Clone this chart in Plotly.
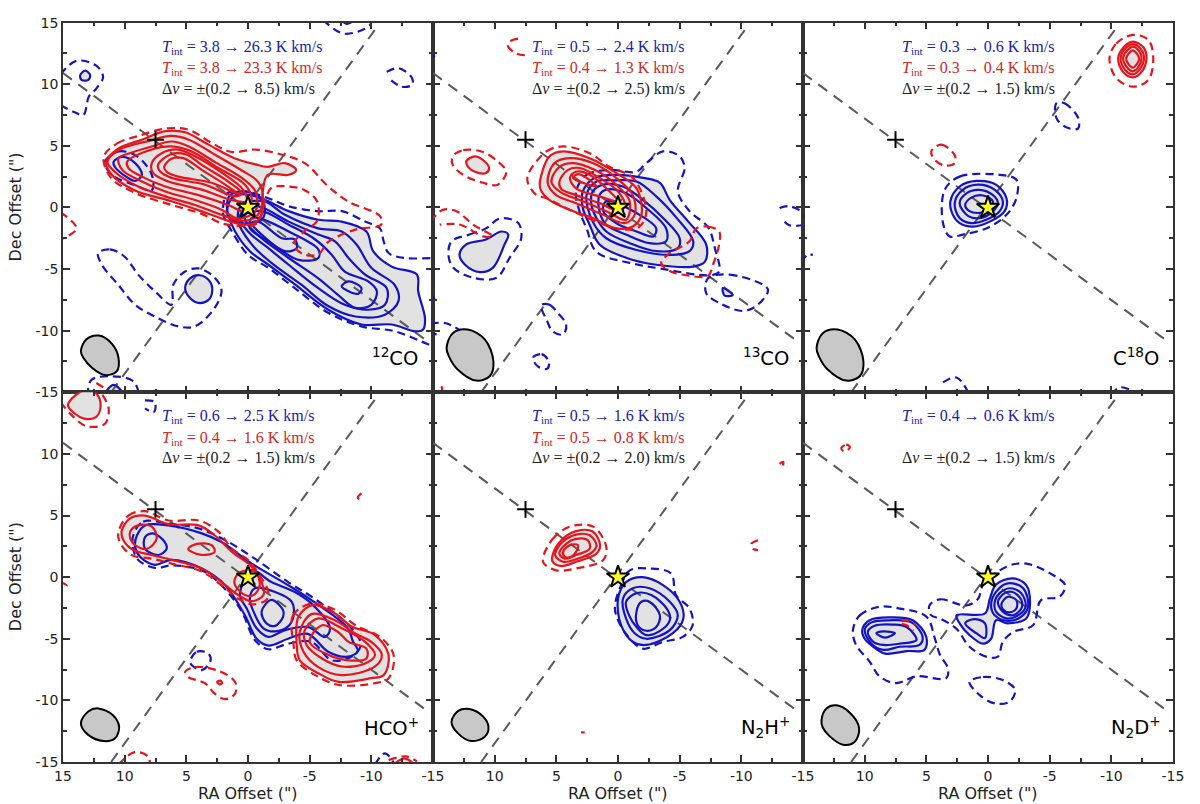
import plotly.graph_objects as go

# ---------- shared marks ----------
major_axis_x = [15, -14.6]
major_axis_y = [10.9, -10.9]
minor_axis_x = [11.1, -10.5]
minor_axis_y = [-15, 14.7]
plus_x = [7.5]
plus_y = [5.5]
star_x = [0]
star_y = [0]
tick_values = [15, 10, 5, 0, -5, -10, -15]
tick_labels = ["15", "10", "5", "0", "-5", "-10", "-15"]

# ---------- 12CO ----------
co12_beam = [(13.55,-11.65),(13.1,-10.7),(12.1,-10.4),(11.05,-11.05),(10.5,-12.2),(10.65,-13.3),(11.6,-13.6),(12.65,-13.0),(13.35,-12.2)]
co12_red_dash = [
 [(11.7,4.1),(10.6,5.2),(8.9,5.8),(6.7,6.4),(4.8,6.3),(2.9,5.2),(1.3,4.5),(-0.6,4.7),(-2.7,4.3),(-4.6,3.6),(-6.4,1.8),(-8.1,0.5),(-10.7,-0.7),(-10.8,-1.4),(-8.7,-1.8),(-6.5,-2.8),(-5.7,-3.8),(-4.5,-3.8),(-3.7,-3.0),(-4.6,-1.9),(-5.6,-1.1),(-5.6,0.5),(-4.6,1.4),(-3.3,1.7),(-1.9,1.6),(-1.5,0.9),(-0.7,-1.3),(0.5,-1.5),(2.1,-1.3),(3.8,-0.5),(6.2,0.2),(9.2,1.2),(11.1,2.4)],
]
co12_red_arc = [
 [(15.2,-0.4),(13.9,-1.7),(15.2,-2.6)],
 [(12.3,-14.25),(11.3,-14.9),(11,-15.2)],
]
co12_red_solid = [
 [(11.5,3.7),(10.5,4.8),(8.6,5.5),(6.7,6.2),(5.1,6.1),(3.2,5.1),(1.1,4.0),(-0.6,3.5),(-1.6,3.3),(-3,3.6),(-3.9,3.05),(-3.3,2.65),(-1.6,2.65),(-1.2,1.3),(-1.1,-0.6),(-0.3,-1.35),(1.05,-1.25),(2.7,-0.7),(3.8,-0.3),(6.2,0.5),(9.2,1.4),(11.05,2.65)],
 [(11.4,3.7),(10.4,4.7),(8.0,5.4),(6.2,5.8),(4.8,5.5),(2.7,4.3),(0.5,3.0),(-0.8,2.1),(-1.2,1.0),(-0.8,-0.6),(0.5,-1.1),(2.1,-0.6),(4.3,0.2),(6.7,0.9),(9.2,1.85),(10.8,2.9)],
 [(10.5,4.0),(9.6,4.4),(7.8,4.95),(6.2,5.35),(4.8,4.95),(2.7,3.7),(0.5,2.4),(-0.6,1.3),(-0.6,-0.3),(0.8,-0.9),(2.1,-0.2),(4.3,0.6),(6.7,1.3),(8.9,2.25),(10.2,3.05)],
 [(9.8,3.7),(7.8,4.7),(6.2,4.95),(4.6,4.55),(2.4,3.2),(0.25,1.85),(-0.3,0.75),(0.25,-0.3),(1.6,0.2),(4.0,1.0),(6.7,1.7),(8.6,2.5),(9.7,3.2)],
 [(7.8,3.6),(7.0,4.4),(5.65,4.7),(4.3,4.15),(2.1,2.8),(0.4,1.45),(0.1,0.5),(1.3,0.6),(3.75,1.45),(6.45,2.1),(7.7,2.8)],
 [(7.3,3.45),(6.3,4.3),(5,4.3),(3.75,3.45),(1.6,2.1),(0.5,1.15),(1.05,0.9),(3.5,1.85),(6.2,2.4),(7.1,2.9)],
 [(6.8,3.3),(6.2,3.95),(5.25,4.0),(3.75,3.05),(1.85,1.85),(0.65,1.0),(2.95,2.0),(5.65,2.5),(6.6,2.9)],
]
co12_blue_dash = [
 [(2,0.2),(1.7,1.15),(0.25,1.3),(-1.65,0.75),(-3.3,0.1),(-5.7,-0.3),(-7.6,-0.3),(-9.5,-1.15),(-10.7,-1.7),(-11,-2.75),(-11.4,-3.7),(-12.7,-4.1),(-15,-4.1),(-15.4,-4.1),(-15.4,-11.4),(-14.6,-11.1),(-11.9,-10.05),(-9.2,-9.65),(-6.5,-8.55),(-3.8,-6.55),(-1.65,-4.9),(0,-3.85),(1.3,-1.95),(2,-0.6)],
 [(11.6,3.7),(10.5,4.55),(9.0,4.15),(7.8,2.65),(7.8,1.4),(9.15,1.8),(11.05,2.65)],
 [(12.15,-3.7),(11.2,-3.4),(10,-4),(8.9,-5.45),(7.55,-6.8),(6.2,-7.9),(6.05,-6.25),(5.1,-5.2),(4.0,-4.95),(2.8,-5.6),(2.15,-6.7),(2.7,-8.15),(4.3,-9.65),(5.65,-9.65),(7.55,-8.85),(9.15,-7.9),(10.5,-6.3),(11.85,-4.65)],
]
co12_blue_arc = [
 [(15.2,10.8),(13.9,11.9),(12.3,11.5),(11.75,10.6),(12.3,9.65),(12.9,9),(13.35,7.5),(14,7.7),(15.2,8.3)],
 [(-11.25,11.0),(-12.2,11.3),(-13.3,10.5),(-13.3,9.95),(-12.45,9.8),(-11.4,10.5)],
 [(-6.1,15.2),(-7.8,14.1),(-9.9,14.8),(-10,15.5)],
 [(13,-15.3),(12.7,-14),(11.1,-13.7),(9.3,-14.1),(8.8,-15.3)],
]
co12_blue_solid = [
 [(1.7,0.35),(1.45,1.0),(0.25,1.3),(-1.65,0.5),(-3.3,-0.3),(-5.7,-1.0),(-7.6,-1.15),(-9.6,-1.95),(-10.15,-3.55),(-11.65,-4.8),(-13.7,-5.45),(-13.8,-6.8),(-14.35,-9),(-14.2,-9.9),(-13.55,-10.05),(-11.65,-9.5),(-9.2,-9.5),(-6.5,-8.3),(-3.8,-6.25),(-1.65,-4.65),(-0.15,-3.55),(1.05,-1.95),(1.6,-0.6)],
 [(-1.3,0.5),(-3,-0.6),(-5.7,-1.7),(-7.6,-1.95),(-8.8,-3.0),(-10,-4.9),(-11.9,-6.3),(-12.2,-7.6),(-11.1,-8.7),(-8.7,-8.85),(-6.5,-8.0),(-4.3,-6.25),(-1.9,-4.5),(-0.3,-3.0),(0.8,-1.1),(0.5,0.2)],
 [(-1.25,-0.05),(-3.3,-1.15),(-5.7,-2.2),(-7.05,-2.75),(-8.15,-4.1),(-9.5,-5.45),(-11.25,-6.55),(-11.1,-7.9),(-9.75,-8.3),(-7.85,-7.9),(-5.7,-6.55),(-3.3,-4.65),(-1.65,-3.3),(0,-1.95),(0.65,-0.85),(0,0.2)],
 [(-1.1,-0.3),(-3.3,-1.4),(-5.45,-2.6),(-6.8,-3.85),(-7.85,-5.2),(-9.75,-6),(-10.45,-6.8),(-10.0,-7.9),(-8.7,-8.15),(-7.3,-7.1),(-5.7,-5.75),(-3.3,-4.1),(-1.1,-2.5),(0.1,-1.27),(0.25,-0.6)],
 [(-7.6,-6.4),(-8.15,-6),(-9.2,-6.55),(-8.95,-7.0),(-8.15,-6.8)],
 [(-0.85,-0.85),(-3.3,-1.95),(-5.7,-3.4),(-5.7,-4.1),(-4.1,-4.25),(-1.65,-2.75),(-0.15,-1.67),(-0.3,-0.85)],
 [(-0.85,-1.15),(-2.75,-2.5),(-3.8,-2.6),(-3.95,-3.3),(-3,-3.55),(-1.1,-2.2),(-0.3,-1.27)],
 [(1.6,0.2),(1.2,0.9),(0.1,1.05),(-1.2,0.5),(-1.2,-0.9),(0.4,-1.3),(1.3,-1.0),(1.7,-0.5)],
 [(10.9,3.7),(10.2,4.1),(9.15,3.6),(8.6,2.65),(9.15,2.15),(10.1,2.65),(10.8,3.3)],
 [(13.6,10.75),(13.2,11.1),(12.8,10.75),(12.95,10.35),(13.5,10.35)],
 [(5.1,-6.55),(4.7,-5.75),(3.9,-5.5),(3.1,-6),(2.9,-6.8),(3.2,-7.5),(4.0,-7.75),(4.7,-7.35)],
 [(11.6,-15.2),(10.9,-14.4),(10.1,-15.2)],
 [(-7.6,15.2),(-8.0,14.9),(-8.6,15.2)],
]

# ---------- 13CO ----------
co13_beam = [(13.9,-11.4),(13.4,-10.2),(12.2,-9.9),(10.8,-10.7),(10.1,-12.5),(10.4,-13.7),(11.5,-14.05),(13,-13.15),(13.7,-12.1)]
co13_red_dash = [
 [(13.4,4.15),(12.55,4.65),(10.95,4.5),(9.6,3.6),(9.05,2.9),(9.75,1.85),(10.95,2),(12.55,2.65),(13.4,3.45)],
 [(7.3,2.65),(5.8,4.55),(4.45,4.95),(2.3,4.4),(0.7,3.3),(-1.2,2.4),(-2.3,-0.3),(-1.75,-1.55),(-0.4,-1.8),(1.75,-1.15),(3.9,-0.2),(5.8,0.75),(6.6,1),(7.3,1.97)],
 [(-6.35,-1.7),(-7.3,-1.55),(-8.2,-1.95),(-8.2,-3),(-7.7,-4.65),(-7.3,-5.55),(-5.55,-5.5),(-4.2,-5.15),(-3.5,-4.5),(-4.2,-3.7),(-5.8,-2.75)],
]
co13_red_arc = [
 [(8.1,13.7),(8.8,13.45),(8.9,13.05),(8.25,12.5),(7.55,12.35)],
 [(15.2,-1.1),(14.2,-0.2),(13.1,-0.3),(11.75,-1.4),(10.15,-2.35),(10.95,-2.35),(12.8,-1.4),(14.45,-1.4)],
 [(14.3,-14.5),(14.2,-15.2)],
]
co13_red_solid = [
 [(12.3,3.75),(11.6,4.15),(10.95,3.85),(10.45,3.2),(10.7,2.8),(11.6,2.9),(12.15,3.3)],
 [(6.35,1.85),(5.55,4.15),(4.45,4.55),(2.3,4),(0.15,2.8),(-1.5,1.55),(-1.9,-0.6),(-1.2,-1.55),(0.15,-1.7),(2.05,-0.85),(3.9,-0.2),(5.55,0.6),(6.2,1.3)],
 [(5.7,2),(5.15,3.6),(3.9,4),(2.05,3.6),(0.15,2.4),(-1.2,1.0),(-1.35,-0.6),(-0.55,-1.27),(1.2,-0.6),(3.4,0.35),(5,1.0)],
 [(5.4,2.1),(4.75,3.3),(3.65,3.6),(1.9,3.05),(0.15,1.85),(-0.95,0.5),(-0.65,-1),(0.95,-0.3),(2.85,0.5),(4.75,1.3)],
 [(4.75,2.1),(4.05,3.05),(3.1,3.2),(1.5,2.4),(0,1.3),(-0.55,0.2),(-0.15,-0.3),(1.5,0.35),(3.4,1),(4.6,1.5)],
 [(3.9,2.4),(3.4,2.9),(2.3,2.65),(0.95,1.55),(0,0.5),(1.5,0.9),(3.4,1.55)],
 [(3.65,2.4),(3.25,2.7),(2.55,2.4),(1.75,1.7),(2.85,2)],
]
co13_blue_dash = [
 [(13.5,-2.75),(12.05,-2.2),(10.7,-1.7),(9.6,-0.9),(8.1,-1.25),(7.85,-2.5),(8.8,-4.1),(9.85,-5.7),(11.75,-5.7),(13.35,-4.9),(13.75,-3.85)],
 [(3.4,1.3),(2.55,2.65),(0.7,3.05),(-1.5,2.9),(-2.3,3.6),(-3.65,4.55),(-5,4.15),(-5.4,3.2),(-4.85,1.3),(-5.8,-0.3),(-7.3,-1.6),(-7.85,-3.3),(-8.2,-5.2),(-7.5,-5.5),(-3.4,-4.95),(-0.95,-4.5),(1.75,-3.6),(2.55,-1.7),(3.2,-0.05)],
 [(-7.3,-5.75),(-9.05,-5.45),(-12.15,-6.65),(-11.2,-8),(-10.15,-8.4),(-8.5,-7.9),(-7.15,-6.95)],
 [(6.2,-7.9),(5.55,-7.9),(4.9,-8.55),(4.2,-9.5),(4.45,-10.3),(5.3,-10.05),(5.8,-9.1),(6.2,-8.2)],
 [(6.9,-12.2),(6.2,-11.9),(5.6,-12.5),(5.75,-13.1),(6.5,-12.9)],
]
co13_blue_arc = [
 [(-13.1,-0.05),(-13.9,0.1),(-15.2,-0.6),(-15.2,-1.27),(-13.9,-1.45),(-13.25,-0.85)],
 [(15.2,-9.4),(13.95,-9.4),(12.9,-9.9)],
 [(15.2,-10.2),(14.7,-10.3)],
 [(15.2,12.6),(14.9,12.3),(15.2,11.9)],
 [(15.2,-7),(14.9,-7.4),(15.2,-7.8)],
]
co13_blue_solid = [
 [(12.85,-3.85),(12.3,-3.0),(10.7,-2.6),(9.45,-1.95),(8.9,-2.2),(9.2,-3.0),(10.15,-4.9),(11.2,-5.25),(12.4,-4.65)],
 [(2.85,1.3),(1.9,2.4),(0.15,2.65),(-2.05,2.4),(-3.4,2),(-4.2,0.6),(-5.7,-1.15),(-7.15,-3),(-7.05,-4.4),(-6.1,-4.8),(-3.1,-4.65),(-0.7,-4.1),(1.5,-3),(2.3,-1.4),(2.85,-0.05)],
 [(2.55,1),(1.75,2.1),(0.15,2.2),(-1.5,2.1),(-3.1,0.9),(-4.75,-0.85),(-6.1,-2.75),(-5.8,-3.55),(-4.45,-3.85),(-1.5,-3.45),(0.95,-2.5),(2.05,-1.15)],
 [(2.05,1.3),(1.2,1.85),(-0.4,1.7),(-2.05,0.6),(-3.65,-0.85),(-5,-2.5),(-4.85,-3.3),(-3.1,-3.55),(-0.95,-2.9),(0.95,-1.95),(1.75,-0.85),(2.15,0.2)],
 [(1.5,1),(0.95,1.45),(-0.65,1.15),(-2.3,-0.05),(-3.9,-1.7),(-3.9,-2.75),(-2.55,-2.9),(-0.65,-2.2),(0.95,-1.4),(1.5,-0.3)],
 [(-1.75,-0.6),(-3.1,-1.7),(-2.85,-2.35),(-1.5,-1.95),(0.15,-1.27),(1.2,-0.3),(0.95,0.5)],
 [(-8.5,-6.55),(-9.3,-7.1),(-8.65,-7.15)],
]

# ---------- C18O ----------
c18o_beam = [(13.9,-11.4),(13.4,-10.2),(12.2,-9.9),(10.8,-10.7),(10.1,-12.5),(10.4,-13.7),(11.5,-14.05),(13,-13.15),(13.7,-12.1)]
c18o_red_dash = [
 [(-9.85,12.1),(-10.4,13.3),(-11.75,14),(-13,13.6),(-13.4,12.1),(-13,10.35),(-11.75,9.8),(-10.4,10.5)],
 [(4.6,4.55),(3.8,5.1),(2.7,4.25),(2.7,3.6),(3.5,3.4),(4.3,3.85)],
]
c18o_red_arc = []
c18o_red_solid = [
 [(-10.55,12.1),(-11,13),(-11.75,13.45),(-12.6,13),(-12.85,12.1),(-12.45,11),(-11.75,10.55),(-10.95,11)],
 [(-10.75,12.1),(-11.1,12.85),(-11.75,13.25),(-12.4,12.85),(-12.65,12.1),(-12.3,11.2),(-11.75,10.8),(-11.1,11.2)],
 [(-10.95,12.1),(-11.25,12.7),(-11.75,13.05),(-12.25,12.7),(-12.45,12.1),(-12.2,11.4),(-11.75,11.05),(-11.25,11.4)],
 [(-11.2,12.1),(-11.75,12.75),(-12.25,12.1),(-12.0,11.55),(-11.75,11.35),(-11.35,11.7)],
]
c18o_blue_dash = [
 [(-5.55,8.45),(-6.2,8.45),(-7.3,7.3),(-7.3,6.4),(-6.35,6.5),(-5.55,7.25)],
 [(3.5,1.45),(2.3,2.5),(-0.95,2.65),(-2.3,2.25),(-2.3,0.75),(-1.5,-0.6),(0.15,-1.7),(2.05,-2.2),(3.1,-2.35),(3.65,-1.27)],
]
c18o_blue_arc = [
 [(3.65,-14.2),(2.55,-13.8),(1.5,-15.2)],
 [(3.4,-14.9),(2.5,-15.2)],
 [(-10,-15.2),(-10.7,-14.6),(-12.4,-15.2)],
 [(15.2,-0.2),(14.85,-1.1)],
 [(15.2,-4.4),(14.6,-3.85),(14.2,-3.85)],
]
c18o_blue_solid = [
 [(3.05,0.5),(2.3,1.7),(0.95,2.15),(-0.65,1.85),(-1.5,0.75),(-1.35,-0.3),(-0.15,-1.15),(1.2,-1.55),(2.3,-1.27),(2.85,-0.6)],
 [(2.7,0.35),(2.05,1.43),(0.8,1.85),(-0.55,1.43),(-1.2,0.5),(-0.95,-0.3),(0.15,-1),(1.35,-1.27),(2.3,-0.85)],
 [(2.3,0.35),(1.75,1.15),(0.7,1.43),(-0.4,1),(-0.8,0.35),(-0.4,-0.3),(0.55,-0.85),(1.6,-0.7)],
 [(1.85,0.2),(1.35,0.8),(0.4,0.97),(-0.4,0.5),(-0.15,-0.2),(0.8,-0.45),(1.5,-0.3)],
]

# ---------- HCO+ ----------
hco_beam = [(13.55,-11.85),(12.95,-10.9),(12.15,-10.65),(10.95,-11.2),(10.45,-12.15),(10.8,-13.1),(11.7,-13.3),(12.95,-12.8)]
hco_red_dash = [
 [(10.5,3.7),(9.7,5.0),(8.35,5.35),(6.45,4.6),(4.0,4.6),(2.4,3.7),(1.3,2.3),(0,1.4),(-0.85,0.3),(-1.65,-1.2),(-1.5,-1.85),(-0.3,-2.2),(0.8,-1.75),(1.85,-0.9),(3.75,0.45),(6.2,1.1),(7.8,1.5),(9.45,1.8),(10.4,2.85)],
 [(-3.7,-5.5),(-3.65,-3.1),(-5.15,-2.15),(-7.05,-2.65),(-8.7,-3.9),(-10.7,-4.85),(-11.8,-6.3),(-11.4,-8.2),(-10.3,-8.6),(-7.35,-8.75),(-5.45,-7.95),(-3.95,-6.75)],
 [(5.1,-7.7),(4.3,-7.3),(2.4,-7.6),(1.05,-8.5),(1.05,-9.45),(1.85,-9.9),(2.7,-9.45),(3.5,-8.6),(4.85,-8.1)],
]
hco_red_arc = [
 [(15.2,14.2),(14.4,13.25),(13.1,12.25),(11.6,12.45),(11.3,13.7),(11.85,14.9),(12,15.2)],
 [(15.2,-0.4),(14.7,-0.7),(15.2,-1)],
 [(-9.2,6.8),(-8.9,6.45),(-9.35,6.1)],
 [(10.5,-15.2),(9.2,-14.2),(8.1,-14.55),(7.95,-15.2)],
 [(-11.4,-14.85),(-12.8,-14.55),(-13.7,-14.95)],
]
hco_red_solid = [
 [(14.6,13.95),(14.0,14.75),(13.1,15.2),(12.3,14.9),(11.95,13.95),(12.3,13),(13.2,12.85),(14.2,13.4)],
 [(10.25,3.7),(9.6,4.75),(8.35,5.0),(6.45,4.3),(4.0,4.2),(2.7,3.4),(1.3,2.05),(-0.3,0.85),(-1.1,-0.4),(-1.25,-1.45),(-0.3,-1.95),(0.8,-1.45),(2.15,-0.4),(3.75,0.7),(6.2,1.4),(7.8,1.8),(9.3,2.2),(10.1,3.0)],
 [(9.55,3.7),(8.9,4.2),(7.8,4.1),(7.4,3.15),(8.2,2.3),(9.15,2.6),(9.55,3.15)],
 [(4.85,2.3),(4.15,2.7),(2.95,2.6),(2.7,2.05),(3.75,1.8),(4.55,2.05)],
 [(1.05,-0.1),(0.5,0.45),(-0.55,0.45),(-0.95,-0.65),(-0.45,-1.45),(0.25,-1.45),(1.05,-0.65)],
 [(-3.95,-5.5),(-4.1,-3.2),(-5.3,-2.25),(-7.05,-2.95),(-8.4,-4.0),(-10.3,-4.7),(-11.4,-6.3),(-11,-7.95),(-10,-8.2),(-7.35,-8.5),(-5.7,-7.8),(-4.2,-6.75)],
 [(-4.2,-4.45),(-5.15,-3),(-7.05,-3.5),(-8.65,-4.55),(-10,-5.25),(-10.85,-6.3),(-10.3,-7.25),(-7.6,-7.95),(-5.7,-7.3),(-4.5,-6.05)],
 [(-4.6,-4.3),(-5.7,-3.35),(-7.6,-4.15),(-9.5,-5.25),(-10.3,-6.3),(-9.5,-7),(-7.6,-7.25),(-6,-6.6),(-4.75,-5.5)],
 [(-5,-5.25),(-6,-3.9),(-7.3,-4.45),(-8.15,-5.25),(-9.6,-5.8),(-9.6,-6.6),(-8.15,-6.75),(-6.5,-6.3)],
 [(2.5,-8.5),(2.25,-8.4),(2.1,-8.6),(2.3,-8.7)],
 [(-11.9,-15.2),(-12.7,-14.7),(-13.4,-15.2)],
]
hco_blue_dash = [
 [(9.3,3.4),(8.5,4.5),(6.45,4.35),(4,3.95),(1.85,3),(-0.55,1.5),(-3.25,-0.4),(-5.4,-1.75),(-8.4,-4.15),(-9.15,-5.5),(-8.4,-6.45),(-6.8,-6.75),(-5.15,-5.25),(-3.25,-5.4),(-1.65,-5.85),(-0.55,-5.1),(0.5,-2.8),(2.15,-0.65),(3.75,0.55),(6.2,0.95),(7.55,0.75),(8.9,1.4),(9.3,2.3)],
 [(4.7,-6.85),(4.15,-6.05),(3.2,-6.2),(3.05,-6.85),(3.75,-7.55),(4.55,-7.15)],
]
hco_blue_arc = [
 [(8.35,14.35),(7.55,14.2),(7.65,13.4),(8.35,13.7)],
 [(-10.3,-15.2),(-11.1,-14.3),(-11.9,-15.2)],
]
hco_blue_solid = [
 [(9.0,3.4),(8.35,4.2),(6.45,4.2),(3.75,3.55),(2.15,2.85),(-0.3,1.1),(-3.25,-0.65),(-5.15,-1.87),(-8.1,-4.15),(-8.5,-5.2),(-8.9,-6.0),(-8.1,-6.45),(-6.5,-6.05),(-4.85,-4.6),(-3.25,-5.0),(-1.65,-5.55),(-0.7,-5.0),(0.25,-3.1),(1.85,-0.65),(3.75,0.7),(6.2,1.4),(7.55,1.0),(8.75,1.65),(9.15,2.45)],
 [(8.35,3.25),(7.7,3.55),(6.75,2.85),(6.6,2.3),(7.25,1.8),(8.35,2.3)],
 [(-0.3,0.55),(-1.9,-0.4),(-3.8,-1.2),(-5.15,-2.15),(-6.65,-4.15),(-6.25,-4.85),(-4.9,-4.05),(-3.0,-4.3),(-1.65,-4.85),(-0.7,-4.15),(0.1,-2.55),(0.65,-1.45)],
 [(-0.55,-0.9),(-2.2,-1.2),(-3.55,-2),(-3.7,-3.1),(-3.25,-4.0),(-2.2,-4.4),(-1.25,-4.15),(-0.45,-2.8),(-0.15,-1.75)],
 [(-1.1,-2.8),(-1.9,-1.85),(-2.85,-2.7),(-2.85,-3.2),(-2.2,-3.95),(-1.5,-3.75)],
]

# ---------- N2H+ ----------
n2h_beam = [(13.5,-11.75),(12.95,-10.85),(12.05,-10.7),(10.95,-11.3),(10.5,-12.15),(10.8,-12.95),(11.9,-13.3),(12.95,-12.7)]
n2h_red_dash = [
 [(6.1,1.5),(5.3,3.1),(3.9,4.1),(2.0,4.1),(0.95,2.45),(1.2,1.4),(3.4,0.7),(5,0.55),(6,1.1)],
]
n2h_red_arc = [
 [(-11.35,3),(-10.8,2.7),(-10.95,2.3),(-11.35,2.2)],
 [(-13.1,9.2),(-13.4,9.35),(-13.35,8.95)],
 [(2.7,-12.6),(3.0,-12.6)],
]
n2h_red_solid = [
 [(5.3,1.8),(4.6,3),(3.4,3.73),(2.05,3.7),(1.45,2.6),(1.75,1.9),(3.4,1.25),(4.6,0.9),(5.3,1.25)],
 [(5.1,1.8),(4.5,2.85),(3.4,3.45),(2.3,3.4),(1.75,2.6),(2.05,2.05),(3.4,1.45),(4.45,1.25)],
 [(4.75,1.9),(4.2,2.7),(3.4,3.1),(2.45,3),(2.3,2.3),(3.4,1.8),(4.3,1.5)],
 [(4.45,2.05),(3.9,2.6),(3.25,2.6),(3.4,2.05),(3.8,1.65),(4.3,1.65)],
]
n2h_blue_dash = [
 [(0.25,-2.3),(-0.25,-0.65),(-0.95,0.55),(-2.55,0.7),(-4.3,0.3),(-4.7,-1.45),(-5.8,-2.55),(-6.05,-3.9),(-5.25,-4.85),(-3.65,-5.25),(-2,-5.8),(-0.65,-4.6),(0.15,-3.1)],
]
n2h_blue_arc = []
n2h_blue_solid = [
 [(0,-1.75),(-0.65,-0.4),(-2,0),(-3.65,-0.65),(-5,-2),(-5.3,-3.35),(-4.45,-4.55),(-2.3,-5.5),(-1.2,-5.25),(-0.25,-3.9)],
 [(-0.4,-1.75),(-1.2,-0.9),(-2.55,-0.9),(-4.2,-2),(-4.85,-3.1),(-4.2,-4.3),(-2.3,-5),(-1.35,-4.55),(-0.65,-3.35)],
 [(-0.65,-2),(-1.5,-1.3),(-2.7,-1.45),(-4.05,-2.7),(-4.2,-3.5),(-3.5,-4.3),(-2.3,-4.7),(-1.5,-4.05),(-0.9,-3.1)],
 [(-1.5,-2.8),(-1.9,-2),(-2.55,-2),(-3.4,-3.1),(-3.1,-4.05),(-2.3,-4.35),(-1.6,-3.9)],
]

# ---------- N2D+ ----------
n2d_beam = [(13.5,-11.6),(13.1,-10.65),(12.3,-10.4),(11.2,-11),(10.45,-12.25),(10.8,-13.35),(11.75,-13.6),(12.85,-12.9),(13.4,-12.2)]
n2d_red_dash = [
 [(11.9,10.45),(11.5,10.75),(11.2,10.55),(11.6,10.2)],
]
n2d_red_arc = [
 [(7,-3.6),(6.6,-3.5),(5.85,-3.9)],
 [(7,-3.8),(6.6,-3.9),(6.05,-4.35)],
]
n2d_red_solid = []
n2d_blue_dash = [
 [(10.95,-4.3),(10.4,-3.1),(8.8,-2.4),(7.15,-2.55),(5,-3.2),(4.3,-5),(3.9,-6.3),(3.25,-7.4),(3.4,-8.2),(5.8,-8.05),(7.45,-8.6),(8.8,-8.05),(9.6,-6.85),(10.7,-5.5)],
 [(4.75,-2.3),(3.9,-1.8),(1.75,-2.3),(0.8,-1.75),(0.4,-0.65),(-1.5,0.85),(-3.1,1.1),(-5.3,0.15),(-6.25,-0.65),(-5.8,-1.6),(-4.3,-1.87),(-3.65,-3.9),(-2.05,-4.45),(-1.2,-5.25),(-0.8,-6.45),(0.15,-6.45),(1.5,-5.65),(2.55,-4.2),(3.9,-3.35),(4.6,-3.1)],
 [(1.5,-8.5),(0.4,-8.1),(-1.2,-8.35),(-2.2,-9.15),(-1.75,-10.1),(-0.55,-10.25),(0.7,-9.55)],
]
n2d_blue_arc = []
n2d_blue_solid = [
 [(10.2,-4.3),(9.6,-3.5),(8,-3.27),(6.1,-3.5),(5,-4.85),(5.15,-5.9),(6.6,-6),(8.35,-6.2),(9.3,-5.65),(10,-5)],
 [(10,-4.3),(9.45,-3.67),(8,-3.5),(6.2,-3.67),(5.3,-4.85),(5.55,-5.5),(7.15,-5.65),(8.5,-5.9),(9.45,-5.4)],
 [(9.75,-4.45),(9.2,-3.95),(7.7,-3.85),(6.6,-4.05),(5.8,-5.1),(7.15,-5.4),(8.5,-5.5),(9.3,-5.25)],
 [(9.05,-4.55),(8.5,-4.4),(7.55,-4.55),(8.35,-4.9)],
 [(2.55,-3.1),(0.25,-2.95),(-0.15,-1.75),(-0.65,-0.6),(-2,-0.1),(-3.1,-0.65),(-3.4,-2.3),(-3.1,-3.35),(-1.6,-3.75),(-0.65,-3.5),(-0.25,-5),(0.4,-5.4),(1.5,-4.7),(2.3,-3.75)],
 [(-0.25,-2.3),(-0.65,-1.2),(-1.6,-0.5),(-2.85,-0.9),(-3.25,-2.4),(-2.7,-3.2),(-1.6,-3.55),(-0.55,-3.1)],
 [(-0.55,-2),(-0.95,-1.3),(-1.75,-0.9),(-2.7,-1.3),(-3.05,-2.4),(-2.45,-3.1),(-1.5,-3.35),(-0.65,-2.8)],
 [(-0.8,-2),(-1.35,-1.3),(-2,-1.2),(-2.7,-1.85),(-2.7,-2.55),(-2,-3.1),(-1.2,-2.8)],
 [(-1.1,-2.15),(-1.6,-1.6),(-2.3,-1.87),(-2.3,-2.55),(-1.75,-2.85),(-1.2,-2.6)],
 [(1.85,-3.75),(1.1,-3.4),(0.25,-3.75),(0.25,-4.95),(0.95,-4.55)],
]

# ---------- text ----------
molecule_names = ["<sup>12</sup>CO", "<sup>13</sup>CO", "C<sup>18</sup>O", "HCO<sup>+</sup>", "N<sub>2</sub>H<sup>+</sup>", "N<sub>2</sub>D<sup>+</sup>"]
blue_ranges = ["3.8 → 26.3", "0.5 → 2.4", "0.3 → 0.6", "0.6 → 2.5", "0.5 → 1.6", "0.4 → 0.6"]
red_ranges = ["3.8 → 23.3", "0.4 → 1.3", "0.3 → 0.4", "0.4 → 1.6", "0.5 → 0.8", ""]
velocity_ranges = ["0.2 → 8.5", "0.2 → 2.5", "0.2 → 1.5", "0.2 → 1.5", "0.2 → 2.0", "0.2 → 1.5"]

BLUE = "#1414c4"
RED = "#e8141c"
FILL = "#e2e2e2"
BEAM = "#c8c8c8"
GRAY = "#5a5a5a"
FRAME = "#333333"
LW = 2.2
DASH = "8px,5px"

panels = [
    (co12_beam, co12_blue_dash, co12_blue_arc, co12_blue_solid, co12_red_dash, co12_red_arc, co12_red_solid),
    (co13_beam, co13_blue_dash, co13_blue_arc, co13_blue_solid, co13_red_dash, co13_red_arc, co13_red_solid),
    (c18o_beam, c18o_blue_dash, c18o_blue_arc, c18o_blue_solid, c18o_red_dash, c18o_red_arc, c18o_red_solid),
    (hco_beam, hco_blue_dash, hco_blue_arc, hco_blue_solid, hco_red_dash, hco_red_arc, hco_red_solid),
    (n2h_beam, n2h_blue_dash, n2h_blue_arc, n2h_blue_solid, n2h_red_dash, n2h_red_arc, n2h_red_solid),
    (n2d_beam, n2d_blue_dash, n2d_blue_arc, n2d_blue_solid, n2d_red_dash, n2d_red_arc, n2d_red_solid),
]
label_right = [-13.95, -14.0, -14.0, -14.0, -14.1, -14.2]

W, H = 1200, 804
LEFT = [63, 433, 803]
SPAN_X = 370
TOP = [22.6, 392.3]
SPAN_Y = 369.7

fig = go.Figure()


def xy(path, closed):
    pts = list(path) + [path[0]] if closed else list(path)
    return [p[0] for p in pts], [p[1] for p in pts]


def contour(path, closed, color, dash, ax, ay):
    x, y = xy(path, closed)
    fig.add_trace(go.Scatter(x=x, y=y, mode="lines", xaxis=ax, yaxis=ay, hoverinfo="skip", showlegend=False,
                             line=dict(color=color, width=LW, dash=dash, shape="spline", smoothing=1)))


def filled(path, ax, ay):
    x, y = xy(path, True)
    fig.add_trace(go.Scatter(x=x, y=y, mode="lines", xaxis=ax, yaxis=ay, hoverinfo="skip", showlegend=False,
                             fill="toself", fillcolor=FILL, line=dict(width=0, shape="spline", smoothing=1)))


annotations = []
layout = {}
tick_font = dict(family="DejaVu Sans", size=14, color="#222222")
title_font = dict(family="DejaVu Sans", size=16, color="#222222")
for i, p in enumerate(panels):
    beam, b_dash, b_arc, b_solid, r_dash, r_arc, r_solid = p
    col, row = i % 3, i // 3
    n = "" if i == 0 else str(i + 1)
    ax, ay = "x" + n, "y" + n
    for path in b_solid + r_solid:
        filled(path, ax, ay)
    fig.add_trace(go.Scatter(x=major_axis_x, y=major_axis_y, mode="lines", xaxis=ax, yaxis=ay, hoverinfo="skip",
                             showlegend=False, line=dict(color=GRAY, width=2, dash="11px,8px")))
    fig.add_trace(go.Scatter(x=minor_axis_x, y=minor_axis_y, mode="lines", xaxis=ax, yaxis=ay, hoverinfo="skip",
                             showlegend=False, line=dict(color=GRAY, width=2, dash="11px,8px")))
    for path in b_dash:
        contour(path, True, BLUE, DASH, ax, ay)
    for path in b_arc:
        contour(path, False, BLUE, DASH, ax, ay)
    for path in b_solid:
        contour(path, True, BLUE, "solid", ax, ay)
    for path in r_dash:
        contour(path, True, RED, DASH, ax, ay)
    for path in r_arc:
        contour(path, False, RED, DASH, ax, ay)
    for path in r_solid:
        contour(path, True, RED, "solid", ax, ay)
    bx, by = xy(beam, True)
    fig.add_trace(go.Scatter(x=bx, y=by, mode="lines", xaxis=ax, yaxis=ay, hoverinfo="skip", showlegend=False,
                             fill="toself", fillcolor=BEAM, line=dict(color="black", width=2, shape="spline", smoothing=1)))
    fig.add_trace(go.Scatter(x=plus_x, y=plus_y, mode="markers", xaxis=ax, yaxis=ay, hoverinfo="skip", showlegend=False,
                             marker=dict(symbol="cross-thin", size=12, color="black", line=dict(color="black", width=2))))
    fig.add_trace(go.Scatter(x=star_x, y=star_y, mode="markers", xaxis=ax, yaxis=ay, hoverinfo="skip", showlegend=False,
                             marker=dict(symbol="star", size=17, color="#ffff22", line=dict(color="black", width=2))))

    x0 = LEFT[col]
    y0 = TOP[row]
    x_from = 0 if col == 0 else 1
    y_from = 0 if row == 0 else 1
    layout["xaxis" + n] = dict(
        domain=[x0 / W, (x0 + SPAN_X) / W], range=[15, -15], anchor=ay, automargin=False,
        tickmode="array", tickvals=tick_values[x_from:], ticktext=tick_labels[x_from:], showticklabels=row == 1,
        ticks="inside", ticklen=7, tickwidth=2, tickcolor=FRAME, showline=True, linewidth=1.6, linecolor=FRAME,
        mirror="ticks", showgrid=False, zeroline=False,
        minor=dict(dtick=2.5, tick0=0, ticks="inside", ticklen=4, tickwidth=1.5, tickcolor=FRAME, showgrid=False),
        tickfont=tick_font,
    )
    layout["yaxis" + n] = dict(
        domain=[1 - (y0 + SPAN_Y) / H, 1 - y0 / H], range=[-15, 15], anchor=ax, automargin=False,
        tickmode="array", tickvals=tick_values[y_from:], ticktext=tick_labels[y_from:], showticklabels=col == 0,
        ticks="inside", ticklen=7, tickwidth=2, tickcolor=FRAME, showline=True, linewidth=1.6, linecolor=FRAME,
        mirror="ticks", showgrid=False, zeroline=False,
        minor=dict(dtick=2.5, tick0=0, ticks="inside", ticklen=4, tickwidth=1.5, tickcolor=FRAME, showgrid=False),
        tickfont=tick_font,
    )
    if row == 1:
        annotations.append(dict(x=0, y=0, xref=ax, yref="paper", yshift=-0.5, xanchor="center", yanchor="bottom", showarrow=False,
                                text='RA Offset (")', font=title_font))
    if col == 0:
        annotations.append(dict(x=15 / W, y=0, xref="paper", yref=ay, xanchor="center", yanchor="middle", showarrow=False,
                                textangle=-90, text='Dec Offset (")', font=title_font))
    serif = dict(family="Liberation Serif", size=16)
    annotations.append(dict(x=7.15, y=13.0, xref=ax, yref=ay, xanchor="left", yanchor="middle", showarrow=False,
                            text="<i>T</i><sub>int</sub> = " + blue_ranges[i] + " K km/s", font=dict(color="#2020b0", **serif)))
    if red_ranges[i]:
        annotations.append(dict(x=7.15, y=11.25, xref=ax, yref=ay, xanchor="left", yanchor="middle", showarrow=False,
                                text="<i>T</i><sub>int</sub> = " + red_ranges[i] + " K km/s", font=dict(color="#d02828", **serif)))
    annotations.append(dict(x=7.15, y=9.65, xref=ax, yref=ay, xanchor="left", yanchor="middle", showarrow=False,
                            text="Δ<i>v</i> = ±(" + velocity_ranges[i] + ") km/s", font=dict(color="#222222", **serif)))
    annotations.append(dict(x=label_right[i], y=-12.15, xref=ax, yref=ay, xanchor="right", yanchor="middle", showarrow=False,
                            text=molecule_names[i], font=dict(family="DejaVu Sans", size=19.5, color="black")))

fig.update_layout(width=W, height=H, margin=dict(l=0, r=0, t=0, b=0), paper_bgcolor="white", plot_bgcolor="white",
                  showlegend=False, annotations=annotations, **layout)

fig.write_html("out.html", post_script="document.body.style.margin='0';", config={"displayModeBar": False})
